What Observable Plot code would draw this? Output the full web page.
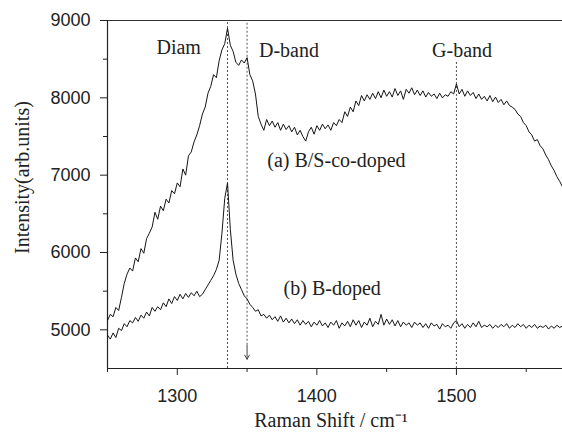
<!DOCTYPE html>
<html><head><meta charset="utf-8">
<script src="https://cdn.jsdelivr.net/npm/d3@7"></script>
<script src="https://cdn.jsdelivr.net/npm/@observablehq/plot@0.6"></script>
<style>body{margin:0;background:#fff}</style>
</head><body><div id="chart"></div>
<script>
// Raman shift sampling grid (cm-1), 1250..1576
const ramanShift = d3.range(1250, 1577, 2);

// (a) B/S-co-doped intensity (arb. units)
const bsCoDoped = [
  5120, 5200, 5170, 5290, 5250, 5420, 5600, 5720, 5800, 5760,
  5930, 5880, 6050, 5990, 6180, 6250, 6330, 6520, 6430, 6600,
  6540, 6690, 6640, 6800, 6760, 6900, 6850, 7080, 7000, 7250,
  7300, 7430, 7520, 7640, 7790, 7880, 8060, 8150, 8300, 8260,
  8480, 8620, 8700, 8900, 8680, 8600, 8460, 8420, 8490, 8450,
  8520, 8300, 8220, 8050, 7760, 7660, 7580, 7720, 7640, 7700,
  7620, 7680, 7580, 7660, 7590, 7640, 7560, 7620, 7520, 7580,
  7500, 7440, 7560, 7620, 7530, 7640, 7580, 7660, 7600, 7650,
  7580, 7680, 7640, 7720, 7680, 7820, 7760, 7880, 7820, 7960,
  7900, 8030, 7960, 8040, 7980, 8060, 7990, 8080, 8000, 8100,
  8020, 8080, 8010, 8120, 8030, 8090, 7980, 8110, 8060, 8130,
  8040, 8100, 8030, 8090, 8010, 8070, 8020, 8050, 7990, 8060,
  8000, 8040, 8020, 8080, 8050, 8180, 8050, 8110, 8020, 8090,
  8030, 8070, 7990, 8050, 7980, 8020, 7960, 8030, 7950, 8010,
  7940, 7980, 7910, 7960, 7900, 7880, 7850, 7790, 7760, 7680,
  7640, 7560, 7520, 7440, 7460, 7380, 7340, 7260, 7200, 7120,
  7060, 6980, 6920, 6850
];

// (b) B-doped intensity (arb. units)
const bDoped = [
  4930, 4880, 4960, 4900, 5020, 4990, 5080, 5040, 5120, 5090,
  5160, 5110, 5190, 5150, 5230, 5180, 5290, 5240, 5300, 5260,
  5350, 5300, 5400, 5340, 5430, 5380, 5460, 5400, 5470, 5420,
  5480, 5440, 5500, 5430, 5460, 5520, 5580, 5640, 5700, 5780,
  5900, 6250, 6700, 6900, 6300, 5900, 5720, 5600, 5520, 5440,
  5400, 5330, 5290, 5240, 5260, 5180, 5200, 5150, 5190, 5130,
  5170, 5110, 5180, 5100, 5150, 5090, 5140, 5080, 5130, 5060,
  5120, 5070, 5110, 5040, 5100, 5060, 5120, 5050, 5090, 5030,
  5100, 5060, 5120, 5020, 5090, 5050, 5110, 5040, 5130, 5060,
  5120, 5030, 5100, 5060, 5150, 5040, 5110, 5070, 5200, 5060,
  5140, 5070, 5130, 5050, 5120, 5040, 5100, 5060, 5090, 5030,
  5100, 5060, 5090, 5030, 5080, 5020, 5090, 5050, 5070, 5010,
  5080, 5040, 5060, 5020, 5090, 5120, 5040, 5080, 5020, 5070,
  5030, 5090, 5040, 5110, 5030, 5060, 5040, 5070, 5020, 5060,
  5030, 5070, 5040, 5080, 5020, 5060, 5030, 5080, 5040, 5070,
  5020, 5060, 5030, 5070, 5020, 5050, 5030, 5060, 5010, 5050,
  5020, 5060, 5030, 5050
];

const bandNames = ["Diam", "D-band", "G-band"];
const bandShifts = [1336, 1350, 1500];
const seriesNames = ["(a) B/S-co-doped", "(b) B-doped"];

const xMajorTicks = [1300, 1400, 1500];
const xMinorTicks = [1250, 1350, 1450, 1550];
const yMajorTicks = [5000, 6000, 7000, 8000, 9000];
const yMinorTicks = [5500, 6500, 7500, 8500];

const seriesA = ramanShift.map((x, i) => ({x, y: bsCoDoped[i]}));
const seriesB = ramanShift.map((x, i) => ({x, y: bDoped[i]}));

const serif = "'Liberation Serif', 'Times New Roman', serif";
const dotted = {stroke: "#555", strokeWidth: 1, strokeDasharray: "2,2"};

const chart = Plot.plot({
  width: 562, height: 432,
  marginLeft: 107, marginTop: 20, marginRight: 0, marginBottom: 64,
  x: {domain: [1250, 1576]},
  y: {domain: [4500, 9000]},
  style: {fontFamily: "'Liberation Sans', Arial, sans-serif", fontSize: "18px", color: "#222", background: "#fff"},
  marks: [
    // frame lines
    Plot.ruleY([9000], {stroke: "#333", strokeWidth: 1.2}),
    Plot.ruleY([4500], {stroke: "#222", strokeWidth: 1.2}),
    Plot.ruleX([1250], {stroke: "#222", strokeWidth: 1.2}),
    // axes
    Plot.axisX({ticks: xMajorTicks, tickSize: 7, tickPadding: 14, tickFormat: d => String(d), label: null, fontSize: 18}),
    Plot.axisX({ticks: xMinorTicks, tickSize: 4, tickFormat: () => "", label: null}),
    Plot.axisY({ticks: yMajorTicks, tickSize: 7, tickPadding: 10, tickFormat: d => String(d), label: null, fontSize: 18}),
    Plot.axisY({ticks: yMinorTicks, tickSize: 4, tickFormat: () => "", label: null}),
    // band markers
    Plot.ruleX([bandShifts[0]], {y1: 4500, y2: 9000, ...dotted}),
    Plot.ruleX([bandShifts[1]], {y1: 4800, y2: 9000, ...dotted}),
    Plot.arrow([bandShifts[1]], {x1: d => d, x2: d => d, y1: 4800, y2: 4620, stroke: "#444", strokeWidth: 1, headLength: 7, bend: false}),
    Plot.ruleX([bandShifts[2]], {y1: 4500, y2: 8480, ...dotted}),
    // spectra
    Plot.line(seriesA, {x: "x", y: "y", stroke: "#151515", strokeWidth: 1}),
    Plot.line(seriesB, {x: "x", y: "y", stroke: "#151515", strokeWidth: 1}),
    // annotations
    Plot.text([bandNames[0]], {x: 1301, y: 8650, text: d => d, fontFamily: serif, fontSize: 20, fill: "#222"}),
    Plot.text([bandNames[1]], {x: 1380, y: 8610, text: d => d, fontFamily: serif, fontSize: 20, fill: "#222"}),
    Plot.text([bandNames[2]], {x: 1504, y: 8610, text: d => d, fontFamily: serif, fontSize: 20, fill: "#222"}),
    Plot.text([seriesNames[0]], {x: 1414, y: 7190, text: d => d, fontFamily: serif, fontSize: 20, fill: "#222"}),
    Plot.text([seriesNames[1]], {x: 1411, y: 5530, text: d => d, fontFamily: serif, fontSize: 20, fill: "#222"}),
    // axis titles
    Plot.text(["Intensity(arb.units)"], {frameAnchor: "left", textAnchor: "middle", lineAnchor: "middle", dx: -85, dy: -17, rotate: -90, text: d => d, fontFamily: serif, fontSize: 20, fill: "#222"}),
    Plot.text(["Raman Shift / cm\u207B\u00B9"], {frameAnchor: "bottom", textAnchor: "middle", lineAnchor: "middle", dx: -4, dy: 52, text: d => d, fontFamily: serif, fontSize: 20, fill: "#222"})
  ]
});
document.getElementById("chart").appendChild(chart);
</script>
</body></html>
